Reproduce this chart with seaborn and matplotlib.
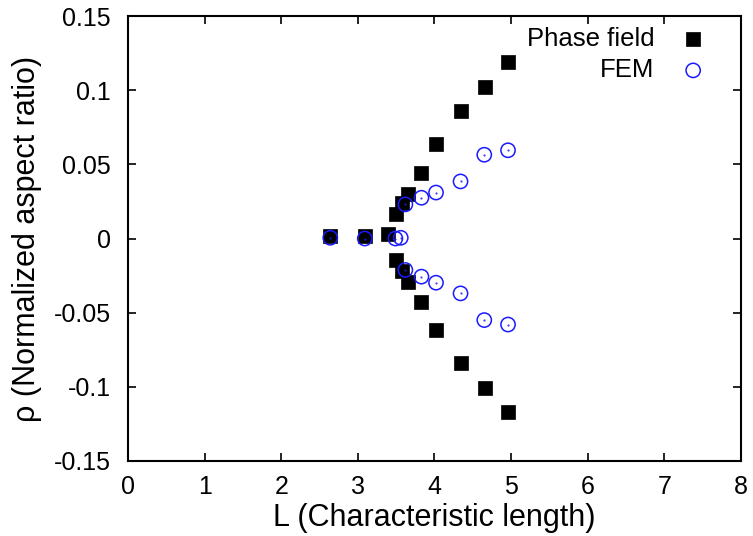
import matplotlib
matplotlib.use("Agg")
import matplotlib.pyplot as plt
import seaborn as sns
import pandas as pd

# Phase field data
pf_L = [2.64, 3.09, 3.39, 3.50, 3.57, 3.66, 3.83, 4.02, 4.35, 4.66, 4.96,
        3.50, 3.57, 3.66, 3.83, 4.02, 4.35, 4.66, 4.96]
pf_rho = [0.0017, 0.0017, 0.0028, 0.0165, 0.024, 0.030, 0.044, 0.0635, 0.086, 0.102, 0.119,
          -0.0145, -0.022, -0.029, -0.043, -0.062, -0.084, -0.1005, -0.117]

# FEM data
fem_L = [2.64, 3.09, 3.49, 3.56, 3.62, 3.83, 4.02, 4.34, 4.65, 4.96,
         3.62, 3.83, 4.02, 4.34, 4.65, 4.96]
fem_rho = [0.0005, 0.0, 0.0, 0.0005, 0.023, 0.0275, 0.031, 0.0385, 0.0565, 0.0595,
           -0.0212, -0.0257, -0.0298, -0.037, -0.055, -0.058]

xticks = [0, 1, 2, 3, 4, 5, 6, 7, 8]
yticks = [-0.15, -0.1, -0.05, 0, 0.05, 0.1, 0.15]
ytick_labels = ["-0.15", "-0.1", "-0.05", "0", "0.05", "0.1", "0.15"]

sns.set_style("white")
plt.rcParams['font.family'] = ['Liberation Sans', 'DejaVu Sans']
plt.rcParams['text.color'] = 'black'
plt.rcParams['axes.labelcolor'] = 'black'
plt.rcParams['xtick.color'] = 'black'
plt.rcParams['ytick.color'] = 'black'

fig = plt.figure(figsize=(7.53, 5.36), dpi=100)
ax = fig.add_axes([0.170, 0.140, 0.814, 0.830])

df_pf = pd.DataFrame({"L": pf_L, "rho": pf_rho})
df_fem = pd.DataFrame({"L": fem_L, "rho": fem_rho})

sns.scatterplot(data=df_pf, x="L", y="rho", marker="s", s=90, color="black",
                edgecolor="black", linewidth=0.5, ax=ax, label="Phase field", zorder=2)
sns.scatterplot(data=df_fem, x="L", y="rho", marker="o", s=105, facecolors="none",
                edgecolor="#1a1aff", linewidth=1.1, ax=ax, label="FEM", zorder=3)
ax.scatter(fem_L, fem_rho, marker=".", s=1, color="#1a1aff", zorder=3)

ax.set_xlim(0, 8)
ax.set_ylim(-0.15, 0.15)
ax.set_xticks(xticks)
ax.set_xticklabels([str(t) for t in xticks])
ax.set_yticks(yticks)
ax.set_yticklabels(ytick_labels)
ax.tick_params(direction="in", length=6, width=1.2, labelsize=18,
               top=True, right=True, bottom=True, left=True)
ax.tick_params(axis="x", pad=10)
ax.tick_params(axis="y", pad=12.5)
for sp in ax.spines.values():
    sp.set_linewidth(1.5)
    sp.set_color("black")

ax.set_xlabel("L (Characteristic length)", fontsize=22, labelpad=3)
ax.set_ylabel("ρ (Normalized aspect ratio)", fontsize=22, labelpad=8)

leg = ax.legend(loc="upper right", bbox_to_anchor=(1 - 0.0067, 1 + 0.016),
                frameon=False, markerfirst=False, fontsize=18.5,
                handletextpad=0.5, borderaxespad=0.3, labelspacing=0.28)

fig.savefig("out.png", dpi=100)
